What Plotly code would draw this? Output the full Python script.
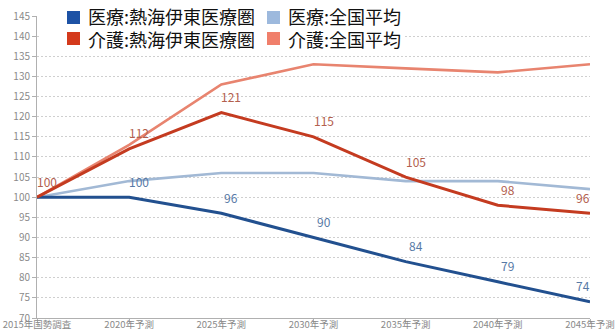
import plotly.graph_objects as go

# Index (2015 = 100) of projected demand, Atami-Ito area vs. national average
periods = ["2015年国勢調査", "2020年予測", "2025年予測", "2030年予測",
           "2035年予測", "2040年予測", "2045年予測"]

medical_local = [100, 100, 96, 90, 84, 79, 74]
medical_national = [100, 104, 106, 106, 104, 104, 102]
care_local = [100, 112, 121, 115, 105, 98, 96]
care_national = [100, 113, 128, 133, 132, 131, 133]

series_names = ["医療:熱海伊東医療圏", "医療:全国平均", "介護:熱海伊東医療圏", "介護:全国平均"]
line_colors = ["#22508f", "#a2b9d5", "#c43b20", "#e8846f"]
swatch_colors = ["#1d52a5", "#9db9dd", "#d43a1c", "#f07f6b"]

W, H = 616, 331
ML, MR, MT, MB = 37, 26, 16, 13
PW, PH = W - ML - MR, H - MT - MB


def px_x(p):
    return (p - ML) / PW


def px_y(p):
    return (H - MB - p) / PH


fig = go.Figure()

# invisible trace that keeps the grid axis active beneath the data
fig.add_trace(go.Scatter(x=[periods[0]], y=[100], yaxis="y2", mode="markers",
                         marker=dict(opacity=0), showlegend=False, hoverinfo="skip"))

# draw national averages first so the local lines sit on top
order = [1, 3, 0, 2]
all_series = [medical_local, medical_national, care_local, care_national]
for i in order:
    fig.add_trace(go.Scatter(
        x=periods, y=all_series[i], mode="lines", name=series_names[i],
        line=dict(color=line_colors[i], width=3 if i in (0, 2) else 2.6),
        showlegend=False, hoverinfo="skip"))

# value labels for the local series
label_font = "Liberation Sans Narrow, Noto Sans CJK JP, sans-serif"
for vals, col in [(care_local, "#b3604e"), (medical_local, "#5779a6")]:
    for k, v in enumerate(vals):
        if vals is medical_local and k == 0:
            continue
        fig.add_annotation(
            x=periods[k], y=v, text=str(v), showarrow=False,
            xshift=-7 if k == len(vals) - 1 else 10, yshift=16,
            font=dict(family=label_font, size=12, color=col))

# legend: white panel, colored squares, and one two-line label block per column
shapes = [dict(type="rect", xref="paper", yref="paper",
               x0=px_x(40), x1=px_x(404), y0=px_y(0), y1=px_y(47),
               fillcolor="white", line=dict(width=0), layer="above")]
cols_x = [67, 267]
rows_y = [11, 32]
for idx in range(len(series_names)):
    cx = cols_x[idx % 2]
    ry = rows_y[idx // 2]
    shapes.append(dict(type="rect", xref="paper", yref="paper",
                       x0=px_x(cx), x1=px_x(cx + 13), y0=px_y(ry + 13), y1=px_y(ry),
                       fillcolor=swatch_colors[idx], line=dict(width=0), layer="above"))
for c, cx in enumerate(cols_x):
    fig.add_annotation(
        xref="paper", yref="paper", x=px_x(cx + 20), y=px_y(28),
        xanchor="left", yanchor="middle", align="left",
        text=series_names[c] + "<br>" + series_names[c + 2],
        showarrow=False, borderpad=0,
        font=dict(family="Noto Sans CJK JP", size=18, color="#111111"))

fig.update_layout(
    width=W, height=H,
    margin=dict(l=ML, r=MR, t=MT, b=MB, pad=0),
    paper_bgcolor="white", plot_bgcolor="white",
    shapes=shapes,
    xaxis=dict(
        type="category", range=[0, len(periods) - 1], showgrid=False,
        showline=True, linecolor="#b0b0b0", linewidth=1,
        ticks="outside", ticklen=4, tickcolor="#b0b0b0",
        ticklabelstandoff=-6,
        tickfont=dict(family=label_font, size=9.5, color="#8a8a8a"),
        automargin=False, zeroline=False),
    yaxis=dict(
        range=[70, 145], tickmode="array", tickvals=list(range(70, 150, 5)),
        showgrid=False, showline=True, linecolor="#b0b0b0", linewidth=1,
        ticks="outside", ticklen=4, tickcolor="#b0b0b0",
        tickfont=dict(family=label_font, size=10, color="#8a8a8a"),
        automargin=False, zeroline=False),
    yaxis2=dict(
        overlaying="y", range=[70, 145], tickmode="array",
        tickvals=list(range(75, 145, 5)), showticklabels=False,
        showgrid=True, gridcolor="#cfcfcf", griddash="2px,2px", gridwidth=1,
        showline=False, zeroline=False, automargin=False),
)

fig.write_html("out.html")
